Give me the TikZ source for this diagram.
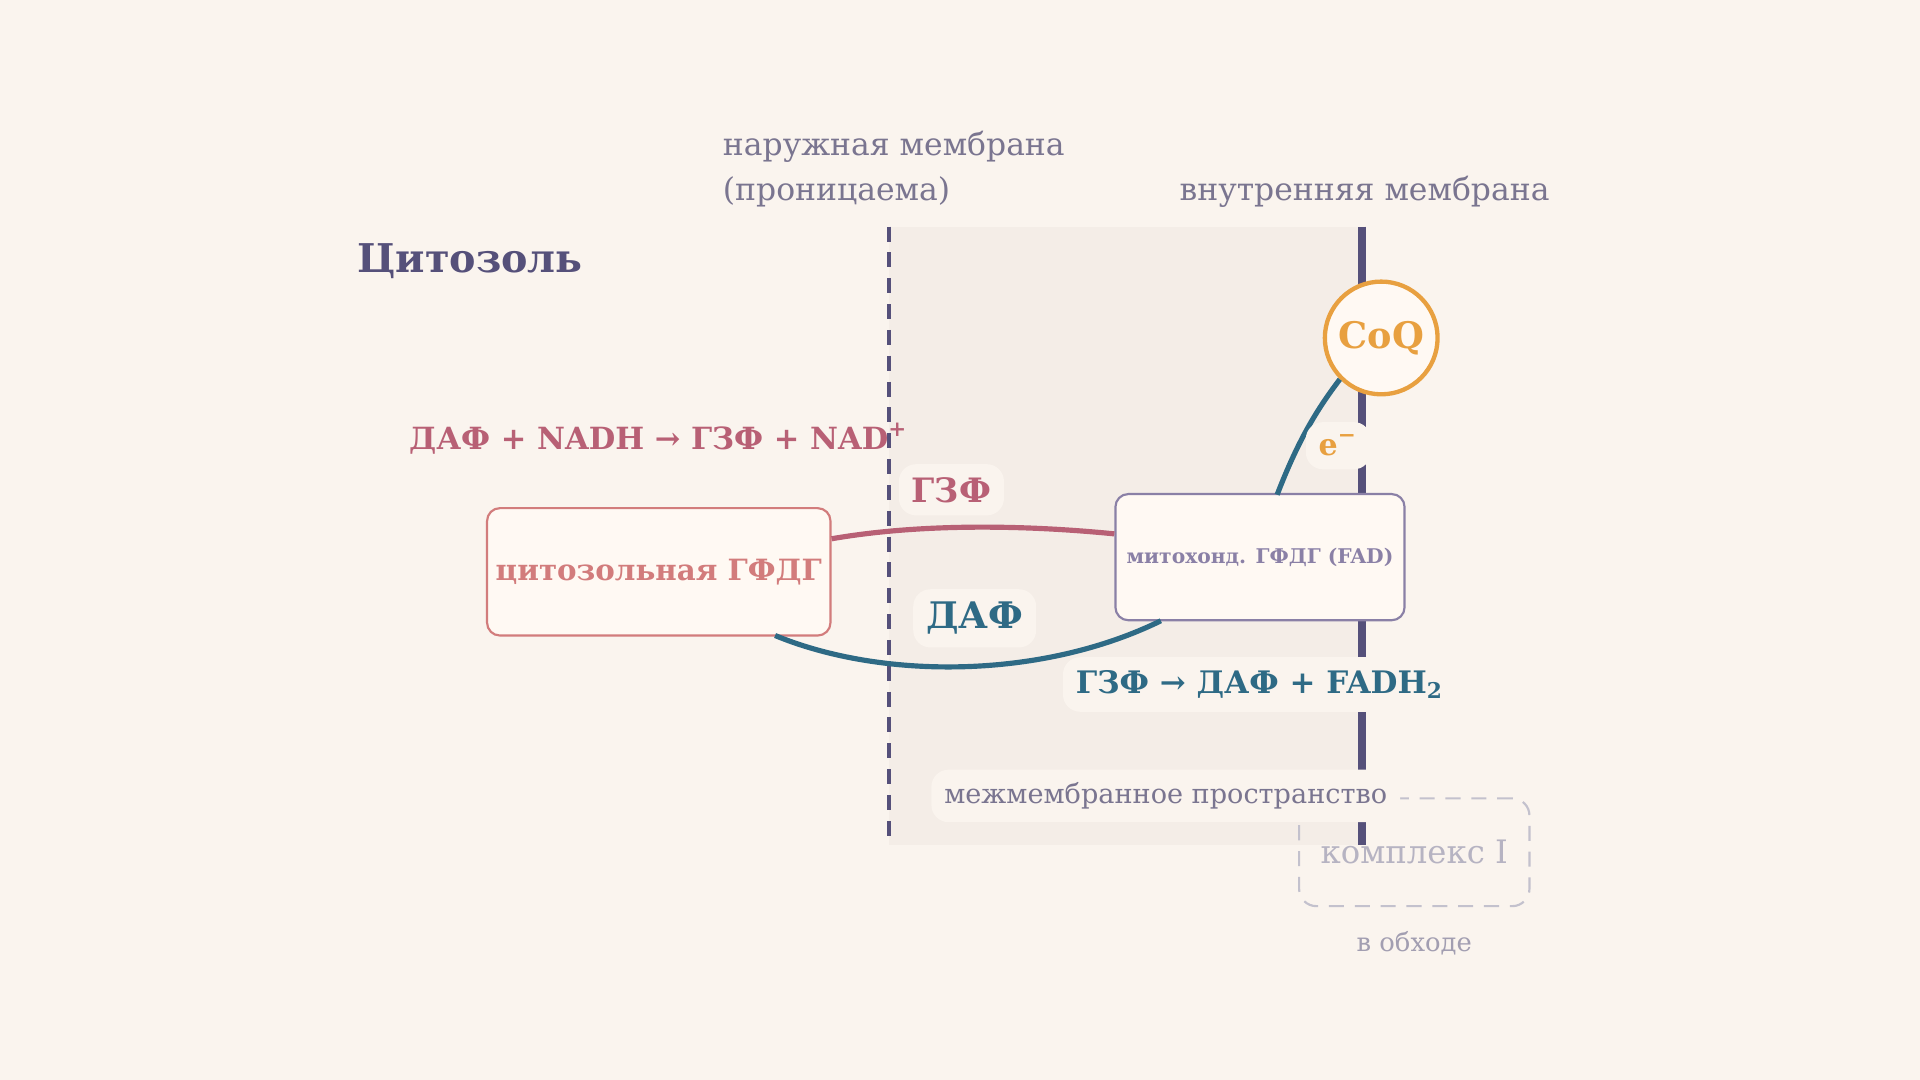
\documentclass[tikz,border=0pt]{standalone}
\usepackage{fontspec}
\setmainfont{DejaVu Serif}
\usetikzlibrary{positioning}
\definecolor{bgc}{HTML}{FAF4EE}
\definecolor{imsc}{HTML}{F4EDE7}
\definecolor{memc}{HTML}{55507A}
\definecolor{greyc}{HTML}{7A7590}
\definecolor{pinkc}{HTML}{B86075}
\definecolor{rosec}{HTML}{D27C7C}
\definecolor{tealc}{HTML}{2E6A85}
\definecolor{lilac}{HTML}{8A80A6}
\definecolor{orangec}{HTML}{E8A040}
\definecolor{boxc}{HTML}{FFF9F3}
\tikzset{
    x=0.01cm,y=-0.01cm,
    enzyme/.style={draw, rounded corners=3pt, fill=boxc, line width=0.5pt, inner sep=2pt},
    lbl/.style={font=\bfseries, fill=bgc, rounded corners=4pt, inner sep=3pt},
    note/.style={text=greyc, font=\fontsize{7.3}{10.5}\selectfont, align=left}
}
\begin{document}
\begin{tikzpicture}
    \fill[bgc] (0,0) rectangle (1568,882);
    \useasboundingbox (0,0) rectangle (1568,882);
    % Intermembrane space
    \fill[imsc] (726,185) rectangle (1112,690);
    \draw[memc, line width=0.9pt, dash pattern=on 3.5pt off 2.5pt] (726,185) -- (726,690);
    \draw[memc, line width=1.8pt] (1112,185) -- (1112,690);

    %%Labels
    \node[note, anchor=west] (outer) at (578,138) {наружная мембрана\\(проницаема)};
    \node[note, anchor=west] (inner) at (951,157) {внутренняя мембрана};
    \node[text=memc, font=\bfseries\fontsize{9.2}{11}\selectfont] (cyto) at (384,213) {Цитозоль};
    \node[text=pinkc, font=\bfseries\fontsize{7.1}{9}\selectfont] (reac1) at (538,358) {ДАФ + NADH → ГЗФ + NAD\textsuperscript{+}};

    %%Nodes
    \node[enzyme, draw=rosec, text=rosec, font=\bfseries\fontsize{6.8}{9}\selectfont,
          minimum width=2.75cm, minimum height=1.04cm] (cgpd) at (538,467) {цитозольная ГФДГ};
    \node[enzyme, draw=lilac, text=lilac, font=\bfseries\fontsize{4.7}{7}\selectfont,
          minimum width=2.36cm, minimum height=1.03cm] (mgpd) at (1029,455) {митохонд. ГФДГ (FAD)};
    \node[circle, draw=orangec, line width=1pt, fill=boxc, text=orangec, minimum size=0.92cm,
          inner sep=1pt, font=\bfseries\fontsize{8.5}{11}\selectfont] (coq) at (1128,276) {CoQ};

    % Directed edge
    \draw[pinkc, line width=1.2pt] (cgpd.east |- 0,440) .. controls (760,426) and (850,430) .. (mgpd.west |- 0,436);
    \draw[tealc, line width=1.2pt] (633,519) .. controls (720,555) and (850,555) .. (948,507);
    \draw[tealc, line width=1.2pt] (1043,404) .. controls (1060,360) and (1075,335) .. (coq.225);

    \node[lbl, text=pinkc, font=\bfseries\fontsize{7.8}{10}\selectfont] (g3p) at (777,400) {ГЗФ};
    \node[lbl, text=tealc, font=\bfseries\fontsize{8.5}{11}\selectfont] (dhap) at (796,505) {ДАФ};
    \node[lbl, text=orangec, font=\bfseries\fontsize{7}{9}\selectfont] (elec) at (1093,364) {e\textsuperscript{−}};
    \node[lbl, text=tealc, font=\bfseries\fontsize{7.2}{9}\selectfont] (reac2) at (1029,559) {ГЗФ → ДАФ + FADH\textsubscript{2}};

    % Complex I
    \node[draw=greyc!45, dash pattern=on 3.5pt off 2.5pt, rounded corners=4pt, line width=0.5pt,
          minimum width=1.88cm, minimum height=0.88cm, text=greyc!55,
          font=\fontsize{7.5}{10}\selectfont] (c1) at (1155,696) {комплекс I};
    \node[text=greyc!70, font=\fontsize{6}{8}\selectfont, below=0.07cm of c1] (bypass) {в обходе};
    \node[lbl, text=greyc, font=\mdseries\fontsize{6.3}{9}\selectfont] (ims) at (952,650) {межмембранное пространство};
\end{tikzpicture}
\end{document}
